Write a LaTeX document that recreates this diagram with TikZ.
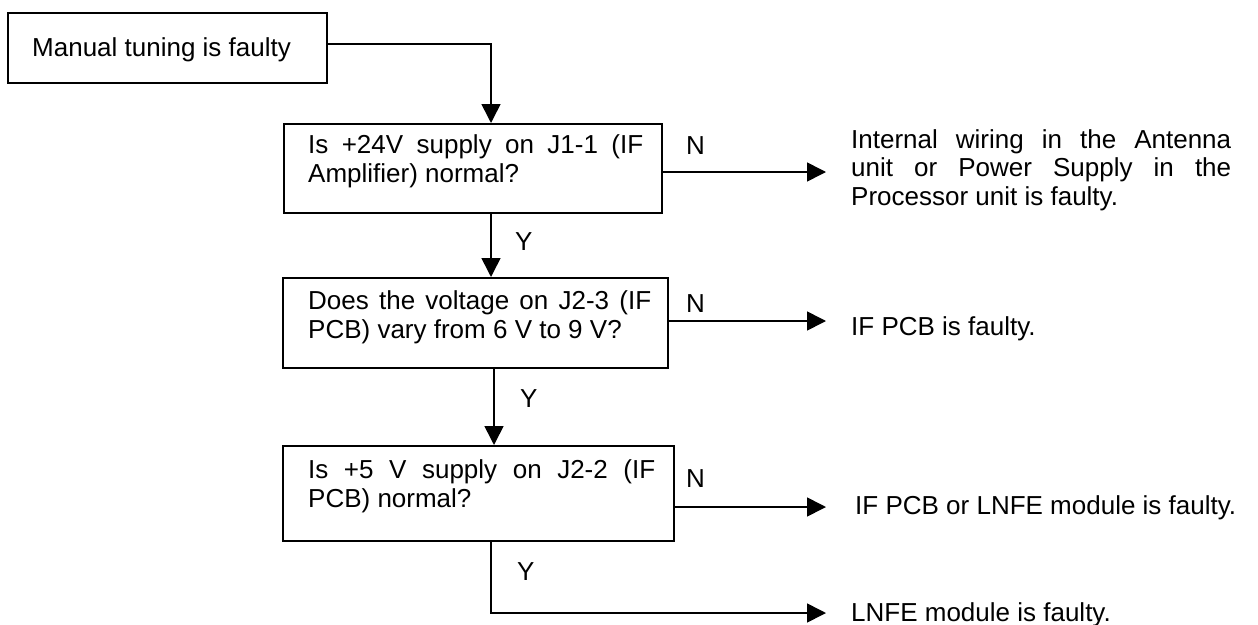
\documentclass[tikz,border=0pt]{standalone}
\usepackage{fontspec}
\setmainfont{Liberation Sans}
\usetikzlibrary{arrows.meta}
\begin{document}
\begin{tikzpicture}[x=1pt,y=-1pt,
  box/.style={draw, line width=1.6pt, inner sep=0pt, anchor=north west},
  txt/.style={inner sep=0pt, anchor=base west, align=left, font=\fontsize{26}{28.5}\selectfont},
  conn/.style={line width=1.6pt},
  arr/.style={line width=1.6pt, -{Triangle[length=19pt,width=19pt]}}]
\useasboundingbox (0,0) rectangle (1258,624);
% boxes
\node[box, minimum width=319pt, minimum height=70pt] (b1) at (7,12) {};
\node[box, minimum width=378pt, minimum height=89pt] (b2) at (283,123) {};
\node[box, minimum width=385pt, minimum height=90pt] (b3) at (282,277) {};
\node[box, minimum width=391pt, minimum height=95pt] (b4) at (282,445) {};
% box texts (base anchor = baseline of last line)
\node[txt] (tb1) at (32,56) {Manual tuning is faulty};
\node[txt] (tb2) at (308,182) {\makebox[335pt][s]{Is +24V supply on J1-1 (IF}\\Amplifier) normal?};
\node[txt] (tb3) at (308,338) {\makebox[343pt][s]{Does the voltage on J2-3 (IF}\\PCB) vary from 6 V to 9 V?};
\node[txt] (tb4) at (308,507) {\makebox[347pt][s]{Is +5 V supply on J2-2 (IF}\\PCB) normal?};
% outcome texts
\node[txt] (o1) at (851,205) {\makebox[380pt][s]{Internal wiring in the Antenna}\\\makebox[380pt][s]{unit or Power Supply in the}\\Processor unit is faulty.};
\node[txt] (o2) at (851,335) {IF PCB is faulty.};
\node[txt] (o3) at (855,514) {IF PCB or LNFE module is faulty.};
\node[txt] (o4) at (851,621) {LNFE module is faulty.};
% labels
\node[txt] (n1) at (686,154) {N};
\node[txt] (n2) at (686,312) {N};
\node[txt] (n3) at (686,487) {N};
\node[txt] (y1) at (515,250) {Y};
\node[txt] (y2) at (520,407) {Y};
\node[txt] (y3) at (517,580) {Y};
% coordinates
\coordinate (e1) at (826,172);
\coordinate (e2) at (826,321);
\coordinate (e3) at (826,507);
\coordinate (e4) at (826,613);
% connectors
\draw[arr] (b1.east |- 0,44) -| (b2.north -| 491,0);
\draw[arr] (b2.south -| 491,0) -- (b3.north -| 491,0);
\draw[arr] (b3.south -| 494,0) -- (b4.north -| 494,0);
\draw[arr] (b4.south -| 491,0) |- (e4);
\draw[arr] (b2.east |- e1) -- (e1);
\draw[arr] (b3.east |- e2) -- (e2);
\draw[arr] (b4.east |- e3) -- (e3);
\end{tikzpicture}
\end{document}
